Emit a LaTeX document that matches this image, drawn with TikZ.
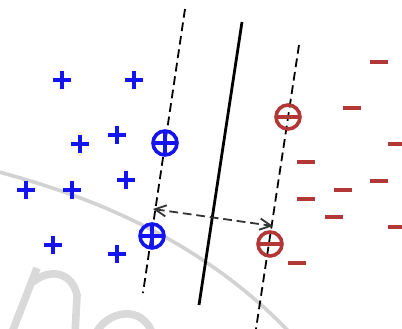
\documentclass[tikz,border=0pt]{standalone}
\usetikzlibrary{arrows.meta}
\definecolor{posblue}{RGB}{20,20,240}
\definecolor{negred}{RGB}{180,55,55}
\definecolor{wm}{RGB}{210,210,210}
\tikzset{
  mk/.style={line width=0.9mm, line cap=butt},
  plusmark/.pic={\draw[mk,posblue] (-9,0) -- (9,0) (0,-9) -- (0,9);},
  minusmark/.pic={\draw[mk,negred] (-9,0) -- (9,0);},
  svplus/.pic={\draw[mk,posblue] (0,0) circle[radius=12*0.25mm] (-10,0) -- (10,0) (0,-10) -- (0,10);},
  svminus/.pic={\draw[mk,negred] (0,0) circle[radius=12*0.25mm] (-10,0) -- (10,0);},
  margin/.style={line width=0.45mm, dash pattern=on 2.2mm off 1.2mm, black},
  hyper/.style={line width=0.7mm, black},
  gap/.style={line width=0.45mm, dash pattern=on 2.2mm off 1.2mm, black!80, {Straight Barb[length=2.8mm,width=2.8mm]}-{Straight Barb[length=2.8mm,width=2.8mm]}},
  water/.style={line width=0.9mm, wm, line cap=round},
  letter/.style={line width=1.9mm, wm!85!white, line cap=butt}
}
\begin{document}
\begin{tikzpicture}[x=0.25mm,y=-0.25mm]
\useasboundingbox (0,0) rectangle (402,329);
\begin{scope}
\clip (0,0) rectangle (402,329);
% watermark background
\draw[water] (-5,171) .. controls (60,188) and (110,208) .. (152,230) .. controls (200,255) and (250,290) .. (292,335);
\draw[letter] (11,335) -- (37,268);
\draw[letter] (33,282) .. controls (50,268) and (72,272) .. (77,295) -- (75,335);
\draw[letter] (95,335) .. controls (105,312) and (142,302) .. (153,335);
\end{scope}
% lines
\coordinate (l1) at (185,9);  \coordinate (l2) at (143,293);
\coordinate (h1) at (242,22); \coordinate (h2) at (199,305);
\coordinate (r1) at (299,45); \coordinate (r2) at (256,329);
\draw[margin] (l1) -- (l2);
\draw[hyper] (h1) -- (h2);
\draw[margin] (r1) -- (r2);
\coordinate (ga) at (153,209); \coordinate (gb) at (273,226);
\draw[gap] (ga) -- (gb);
% positive points
\foreach \p in {(62,80),(134,80),(80,144),(117,135),(26,190),(72,190),(126,180),(53,245),(117,254)}
  \pic at \p {plusmark};
\pic at (165,143) {svplus};
\pic at (152,236) {svplus};
% negative points
\foreach \p in {(379,62),(352,108),(397,144),(306,162),(306,199),(343,190),(379,181),(334,217),(397,227),(297,263)}
  \pic at \p {minusmark};
\pic at (288,117) {svminus};
\pic at (270,244) {svminus};
\end{tikzpicture}
\end{document}
